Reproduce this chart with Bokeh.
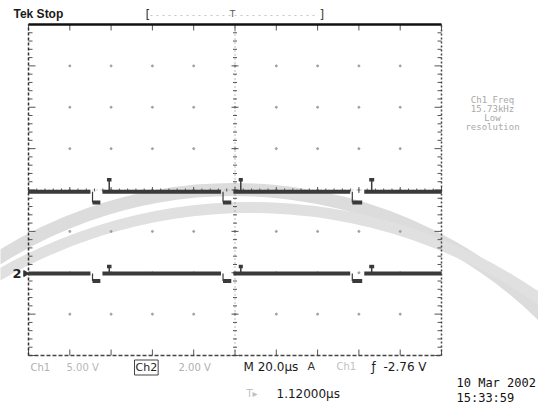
import numpy as np
from bokeh.plotting import figure
from bokeh.models import Range1d, Label
from bokeh.embed import file_html
from bokeh.resources import INLINE

# ---------------- scope settings / data ----------------
time_per_div_us = 20.0
n_hdiv = 10
n_vdiv = 8
minor_per_div = 5

# trace levels in divisions
ch1_level = -0.04
ch1_sync_level = -0.30
ch1_burst_level = 0.25
ch2_level = -2.02
ch2_sync_level = -2.20
ch2_burst_level = -1.85

# sync pulses (start, width) in microseconds
sync_start_us = [-69.0, -5.8, 56.8]
sync_width_us = [3.8, 4.0, 4.8]
# colour-burst fragments after each pulse
burst_start_us = [-62.0, 1.8, 65.0]
burst_width_us = [2.2, 2.0, 2.4]

# readouts
title_text = "Tek Stop"
ch_labels = ["Ch1", "5.00 V", "Ch2", "2.00 V"]
timebase_text = "M 20.0\u00b5s"
trig_src = ["A", "Ch1", "\u0192", "-2.76 V"]
position_text = "1.12000\u00b5s"
date_text = "10 Mar 2002"
time_text = "15:33:59"
meas_lines = ["Ch1 Freq", "15.73kHz", "Low", "resolution"]

# ---------------- geometry helpers (picture px -> data) ----------------
half_t = n_hdiv * time_per_div_us / 2
half_v = n_vdiv / 2
fx0, fx1, fy0, fy1 = 28, 441, 24, 355


def tx(xp):
    return -half_t + (xp - fx0) * (2 * half_t) / (fx1 - fx0)


def ty(yp):
    return half_v - (yp - fy0) * (2 * half_v) / (fy1 - fy0)


W, H = 538, 408
p = figure(width=W, height=H, output_backend="svg", toolbar_location=None,
           x_range=Range1d(tx(0), tx(W)), y_range=Range1d(ty(H), ty(0)),
           min_border=0, min_border_left=0, min_border_right=0,
           min_border_top=0, min_border_bottom=0)
p.axis.visible = False
p.grid.visible = False
p.outline_line_color = None
p.background_fill_color = "white"
p.border_fill_color = "white"

# ---------------- faint watermark arcs ----------------
p.arc(x=[tx(234)], y=[ty(629)], radius=440, radius_units="screen",
      start_angle=np.radians(38), end_angle=np.radians(132),
      line_color="#dcdcdc", line_width=13)
p.arc(x=[tx(250)], y=[ty(710)], radius=503, radius_units="screen",
      start_angle=np.radians(50), end_angle=np.radians(126),
      line_color="#e0e0e0", line_width=11)

# ---------------- graticule ----------------
xd = [-half_t + i * time_per_div_us for i in range(n_hdiv + 1)]
yd = [-half_v + j for j in range(n_vdiv + 1)]
gx, gy = [], []
for x in xd[1:-1]:
    for y in yd[1:-1]:
        gx.append(x)
        gy.append(y)
p.scatter(gx, gy, size=2, color="#a0a0a0", marker="circle")

# center lines
p.line([0, 0], [-half_v, half_v], line_color="#777777", line_width=1, line_dash="1 3")
p.line([-half_t, half_t], [0, 0], line_color="#aaaaaa", line_width=1, line_dash="1 3")

minor_v = [-half_v + k / minor_per_div for k in range(n_vdiv * minor_per_div + 1)]
minor_t = [-half_t + k * time_per_div_us / minor_per_div for k in range(n_hdiv * minor_per_div + 1)]
dt_px = 2 * half_t / (fx1 - fx0)   # us per px
dv_px = 2 * half_v / (fy1 - fy0)   # div per px

xs, ys = [], []
for k, v in enumerate(minor_v):
    major = (k % minor_per_div == 0)
    L = (3.5 if major else 2) * dt_px
    xs.append([-L, L]); ys.append([v, v])                      # center vertical ticks
    xs.append([-half_t, -half_t + 2 * L]); ys.append([v, v])   # left border ticks
    xs.append([half_t - 2 * L, half_t]); ys.append([v, v])     # right border ticks
for k, t in enumerate(minor_t):
    major = (k % minor_per_div == 0)
    L = (3.0 if major else 1.5) * dv_px
    xs.append([t, t]); ys.append([-L, L])                      # center horizontal ticks
    if major:
        xs.append([t, t]); ys.append([half_v, half_v - 2 * L])
        xs.append([t, t]); ys.append([-half_v, -half_v + 2 * L])
p.multi_line(xs, ys, line_color="#555555", line_width=1)

# borders
p.line([-half_t, half_t], [half_v, half_v], line_color="#111111", line_width=2.5)
p.line([-half_t, -half_t], [-half_v, half_v], line_color="#333333", line_width=1.5, line_dash="3 2")
p.line([half_t, half_t], [-half_v, half_v], line_color="#444444", line_width=1.5, line_dash="2 2")
p.line([-half_t, half_t], [-half_v, -half_v], line_color="#444444", line_width=1.5, line_dash="4 2")


# ---------------- traces ----------------
def trace(level, low, burst, color):
    bx, by = [], []
    t0 = -half_t
    for s, w in zip(sync_start_us, sync_width_us):
        bx.append([t0, s - 1.0]); by.append([level, level])
        t0 = s + w + 1.0
    bx.append([t0, half_t]); by.append([level, level])
    p.multi_line(bx, by, line_color=color, line_width=4)
    dx = [[s, s + w] for s, w in zip(sync_start_us, sync_width_us)]
    dy = [[low, low] for _ in sync_start_us]
    p.multi_line(dx, dy, line_color=color, line_width=4)
    ex = [[s, s] for s in sync_start_us]
    ey = [[level, low] for _ in sync_start_us]
    p.multi_line(ex, ey, line_color=color, line_width=1.2)
    ux = [[s, s + w] for s, w in zip(burst_start_us, burst_width_us)]
    uy = [[burst, burst] for _ in burst_start_us]
    p.multi_line(ux, uy, line_color=color, line_width=3.5)
    vx = [[s + w / 2, s + w / 2] for s, w in zip(burst_start_us, burst_width_us)]
    vy = [[level, burst] for _ in burst_start_us]
    p.multi_line(vx, vy, line_color=color, line_width=1.5)


trace(ch1_level, ch1_sync_level, ch1_burst_level, "#3a3a3a")
trace(ch2_level, ch2_sync_level, ch2_burst_level, "#3a3a3a")

# channel 2 ground marker
p.add_layout(Label(x=tx(12), y=ch2_level, text="2", text_font="DejaVu Sans",
                   text_font_size="13px", text_font_style="bold", text_color="#222222",
                   text_baseline="middle"))
p.scatter([tx(25)], [ch2_level], marker="triangle", angle=-np.pi / 2, size=6, color="#333333")


# ---------------- texts ----------------
def lab(xp, yp, text, size="11px", color="#1a1a1a", font="DejaVu Sans", style="normal",
        align="left", **kw):
    p.add_layout(Label(x=tx(xp), y=ty(yp), text=text, text_font=font, text_font_size=size,
                       text_color=color, text_font_style=style, text_align=align,
                       text_baseline="middle", **kw))


lab(13, 13, title_text, size="12px", font="Liberation Sans", style="bold")
# record bar at top
lab(145, 14, "[", size="12px", color="#333333")
lab(319, 14, "]", size="12px", color="#444444")
p.line([tx(150), tx(318)], [ty(15), ty(15)], line_color="#c4c4c4", line_width=1, line_dash="2 4")
lab(232, 13, "T", size="9px", color="#555555", align="center")

# measurement block
for i, s in enumerate(meas_lines):
    lab(492, 99 + i * 9, s, size="9px", color="#a8a8a8", font="DejaVu Sans Mono", align="center")

# bottom readouts
lab(30, 367, ch_labels[0], size="10px", color="#b0b0b0")
lab(66, 367, ch_labels[1], size="10px", color="#b8b8b8")
lab(134, 367, ch_labels[2], size="11px", color="#222222",
    border_line_color="#444444", border_line_width=1, padding=1)
lab(178, 367, ch_labels[3], size="10px", color="#b0b0b0")
lab(243, 366, timebase_text, size="12px", color="#1a1a1a")
lab(307, 366, trig_src[0], size="11px", color="#333333")
lab(336, 366, trig_src[1], size="10px", color="#c0c0c0")
lab(371, 366, trig_src[2], size="12px", color="#222222")
lab(383, 366, trig_src[3], size="12px", color="#1a1a1a")
lab(246, 393, "T\u25b8", size="10px", color="#c0c0c0")
lab(276, 393, position_text, size="12px", color="#1a1a1a")
lab(456, 382, date_text, size="12px", color="#111111", font="DejaVu Sans Mono")
lab(456, 397, time_text, size="12px", color="#111111", font="DejaVu Sans Mono")

open("out.html", "w").write(file_html(p, INLINE))
